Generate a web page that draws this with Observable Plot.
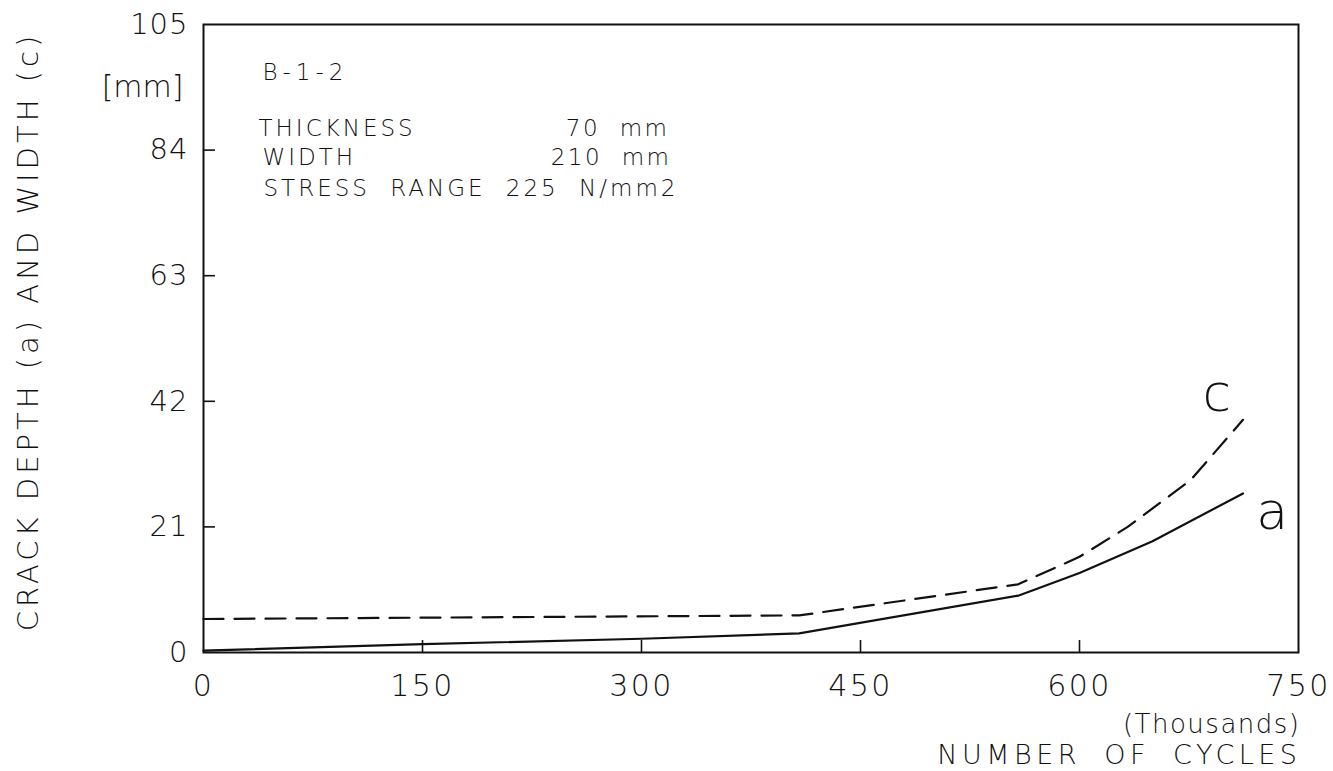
<!DOCTYPE html>
<html>
<head>
<meta charset="utf-8">
<script src="https://cdn.jsdelivr.net/npm/d3@7"></script>
<script src="https://cdn.jsdelivr.net/npm/@observablehq/plot@0.6"></script>
<style>
  html, body { margin: 0; padding: 0; background: #fff; }
  #chart svg { display: block; }
</style>
</head>
<body>
<div id="chart"></div>
<script>
// Tick values
const xTicks = [0, 150, 300, 450, 600, 750];
const yTicks = [0, 21, 42, 63, 84, 105];

// Series a (crack depth), solid
const cyclesA = [0, 150, 300, 408, 558, 600, 650, 712];
const depthA  = [0.3, 1.4, 2.3, 3.2, 9.5, 13.3, 18.6, 26.6];

// Series c (crack width), dashed
const cyclesC = [0, 408, 558, 600, 633, 676, 712];
const widthC  = [5.6, 6.2, 11.4, 16.0, 21.0, 28.8, 38.9];

// Annotation texts
const specimen = "B-1-2";
const infoLabels = ["THICKNESS", "WIDTH", "STRESS RANGE 225 N/mm2"];
const infoValues = ["70\u00a0\u00a0mm", "210\u00a0\u00a0mm"];

const seriesA = cyclesA.map((x, i) => ({x, y: depthA[i]}));
const seriesC = cyclesC.map((x, i) => ({x, y: widthC[i]}));

const ink = "#111";
const font = "DejaVu Sans, Liberation Sans, sans-serif";

// letter/word spacing via render hook
const spaced = (ls, ws) => ({
  render(index, scales, values, dimensions, context, next) {
    const g = next(index, scales, values, dimensions, context);
    if (g) {
      g.setAttribute("letter-spacing", ls);
      if (ws) g.setAttribute("word-spacing", ws);
    }
    return g;
  }
});

const common = {fill: ink, fontWeight: 200};

const info = (text, dx, dy, anchor, ls, ws) =>
  Plot.text([text], {frameAnchor: "top-left", dx, dy, textAnchor: anchor, lineAnchor: "middle", text: d => d,
    fontSize: 23, ...common, ...spaced(ls, ws)});

const svg = Plot.plot({
  width: 1333,
  height: 771,
  marginLeft: 203,
  marginRight: 35,
  marginTop: 24,
  marginBottom: 119,
  x: {domain: [0, 750], axis: null},
  y: {domain: [0, 105], axis: null},
  style: {fontFamily: font, background: "#fff", color: ink},
  marks: [
    Plot.frame({stroke: ink, strokeWidth: 2}),
    // inward ticks
    Plot.ruleX(xTicks.slice(1, -1), {y1: 0, y2: 2.0, stroke: ink, strokeWidth: 1.6}),
    Plot.ruleY(yTicks.slice(1, -1), {x1: 0, x2: 8.2, stroke: ink, strokeWidth: 1.6}),
    // tick labels
    Plot.text(xTicks, {x: d => d, y: 0, dy: 34, dx: 0, text: d => String(d), fontSize: 30, ...common, ...spaced("2.5px")}),
    Plot.text(yTicks, {x: 0, y: d => d, dx: -15, text: d => String(d), textAnchor: "end", fontSize: 29, ...common, ...spaced("1px")}),
    // unit
    Plot.text(["[mm]"], {frameAnchor: "top-left", dx: -20, dy: 63, textAnchor: "end", lineAnchor: "middle", text: d => d, fontSize: 30, ...common, ...spaced("0px")}),
    // axis titles
    Plot.text(["CRACK DEPTH (a) AND WIDTH (c)"], {frameAnchor: "left", dx: -175, dy: -7, rotate: -90, textAnchor: "middle", lineAnchor: "middle", text: d => d, fontSize: 29, ...common, ...spaced("4px")}),
    Plot.text(["(Thousands)"], {frameAnchor: "bottom-right", dx: 2, dy: 72, textAnchor: "end", lineAnchor: "middle", text: d => d, fontSize: 26, ...common, ...spaced("1.5px")}),
    Plot.text(["NUMBER OF CYCLES"], {frameAnchor: "bottom-right", dx: 3, dy: 103, textAnchor: "end", lineAnchor: "middle", text: d => d, fontSize: 27, ...common, ...spaced("4.5px", "10px")}),
    // annotations
    info(specimen, 59, 48, "start", "5px"),
    info(infoLabels[0], 55, 104, "start", "3px"),
    info(infoLabels[1], 59, 133, "start", "3px"),
    info(infoLabels[2], 60, 164, "start", "3px", "10px"),
    info(infoValues[0], 466, 104, "end", "2.5px"),
    info(infoValues[1], 468, 133, "end", "2.5px"),
    // series
    Plot.line(seriesC, {x: "x", y: "y", stroke: ink, strokeWidth: 2.2, strokeDasharray: "20,11"}),
    Plot.line(seriesA, {x: "x", y: "y", stroke: ink, strokeWidth: 2.2}),
    Plot.text(["c"], {x: 694, y: 43.2, text: d => d, fontSize: 52, ...common}),
    Plot.text(["a"], {x: 732, y: 23.4, text: d => d, fontSize: 52, ...common})
  ]
});

document.getElementById("chart").appendChild(svg);
</script>
</body>
</html>
